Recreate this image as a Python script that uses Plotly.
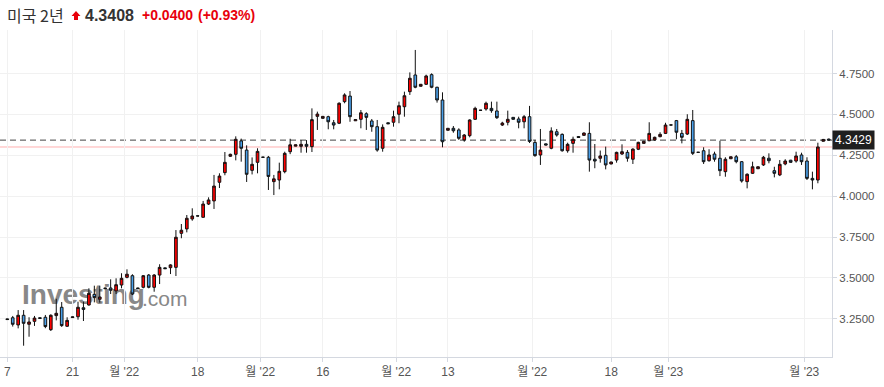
import pandas as pd
import plotly.graph_objects as go

# ---------------- data ----------------
holidays = ["2022-09-05", "2022-10-10", "2022-11-11", "2022-12-26", "2023-01-02", "2023-01-16"]
dates = pd.bdate_range("2022-08-07", "2023-02-06", freq="C",
                       weekmask="Sun Mon Tue Wed Thu Fri",
                       holidays=holidays).strftime("%Y-%m-%d").tolist()

opens = [3.250, 3.257, 3.213, 3.272, 3.217, 3.235, 3.257, 3.260, 3.184, 3.270,
         3.321, 3.205, 3.258, 3.263, 3.318, 3.335, 3.400, 3.370, 3.439, 3.439,
         3.421, 3.457, 3.504, 3.514, 3.439, 3.443, 3.518, 3.443, 3.518, 3.562,
         3.563, 3.565, 3.773, 3.800, 3.861, 3.880, 3.871, 3.952, 3.971, 4.085,
         4.144, 4.244, 4.256, 4.338, 4.282, 4.158, 4.207, 4.239, 4.238, 4.089,
         4.099, 4.150, 4.272, 4.306, 4.305, 4.317, 4.303, 4.488, 4.476, 4.486,
         4.449, 4.446, 4.578, 4.612, 4.461, 4.470, 4.504, 4.460, 4.425, 4.293,
         4.449, 4.452, 4.501, 4.547, 4.639, 4.741, 4.672, 4.684, 4.743, 4.666,
         4.588, 4.403, 4.415, 4.405, 4.344, 4.370, 4.470, 4.526, 4.533, 4.537,
         4.521, 4.435, 4.452, 4.482, 4.472, 4.455, 4.486, 4.329, 4.252, 4.320,
         4.293, 4.394, 4.378, 4.278, 4.323, 4.365, 4.372, 4.384, 4.226, 4.232,
         4.250, 4.197, 4.221, 4.258, 4.268, 4.226, 4.287, 4.323, 4.339, 4.344,
         4.364, 4.384, 4.436, 4.462, 4.384, 4.380, 4.462, 4.269, 4.278, 4.217,
         4.258, 4.232, 4.150, 4.229, 4.241, 4.211, 4.089, 4.140, 4.168, 4.191,
         4.232, 4.156, 4.130, 4.197, 4.220, 4.215, 4.252, 4.215, 4.109, 4.099,
         4.336, 4.349]
highs = [3.252, 3.268, 3.304, 3.304, 3.260, 3.268, 3.259, 3.274, 3.278, 3.373,
         3.353, 3.260, 3.264, 3.355, 3.355, 3.437, 3.453, 3.453, 3.441, 3.492,
         3.498, 3.529, 3.553, 3.523, 3.441, 3.518, 3.524, 3.524, 3.584, 3.564,
         3.584, 3.793, 3.830, 3.885, 3.926, 3.880, 3.971, 3.993, 4.130, 4.140,
         4.270, 4.260, 4.366, 4.352, 4.311, 4.237, 4.293, 4.239, 4.246, 4.130,
         4.205, 4.272, 4.351, 4.315, 4.343, 4.343, 4.537, 4.517, 4.490, 4.492,
         4.466, 4.574, 4.629, 4.643, 4.470, 4.527, 4.513, 4.472, 4.466, 4.439,
         4.451, 4.523, 4.578, 4.639, 4.757, 4.894, 4.686, 4.743, 4.751, 4.669,
         4.635, 4.416, 4.429, 4.415, 4.380, 4.470, 4.547, 4.526, 4.578, 4.578,
         4.578, 4.455, 4.523, 4.484, 4.486, 4.496, 4.552, 4.344, 4.411, 4.322,
         4.421, 4.411, 4.384, 4.327, 4.364, 4.367, 4.390, 4.452, 4.319, 4.279,
         4.303, 4.211, 4.272, 4.317, 4.282, 4.293, 4.333, 4.338, 4.452, 4.364,
         4.391, 4.449, 4.436, 4.466, 4.405, 4.501, 4.527, 4.269, 4.299, 4.287,
         4.272, 4.339, 4.238, 4.243, 4.252, 4.215, 4.140, 4.211, 4.182, 4.246,
         4.262, 4.180, 4.221, 4.226, 4.222, 4.272, 4.266, 4.238, 4.150, 4.327,
         4.350, 4.352]
lows = [3.244, 3.203, 3.192, 3.086, 3.141, 3.207, 3.251, 3.193, 3.176, 3.241,
        3.201, 3.201, 3.256, 3.245, 3.237, 3.331, 3.351, 3.349, 3.433, 3.402,
        3.402, 3.437, 3.498, 3.396, 3.433, 3.437, 3.437, 3.416, 3.463, 3.555,
        3.524, 3.512, 3.743, 3.779, 3.850, 3.878, 3.869, 3.946, 3.922, 4.050,
        4.128, 4.240, 4.219, 4.211, 4.087, 4.133, 4.140, 4.237, 4.038, 4.007,
        4.042, 4.140, 4.257, 4.305, 4.266, 4.266, 4.270, 4.405, 4.474, 4.409,
        4.409, 4.441, 4.568, 4.455, 4.460, 4.415, 4.405, 4.394, 4.272, 4.272,
        4.441, 4.425, 4.446, 4.486, 4.619, 4.660, 4.670, 4.680, 4.660, 4.572,
        4.299, 4.401, 4.388, 4.344, 4.333, 4.360, 4.466, 4.524, 4.523, 4.510,
        4.472, 4.429, 4.433, 4.468, 4.415, 4.415, 4.325, 4.241, 4.191, 4.311,
        4.287, 4.364, 4.272, 4.266, 4.266, 4.357, 4.368, 4.150, 4.171, 4.205,
        4.164, 4.195, 4.205, 4.252, 4.211, 4.197, 4.282, 4.321, 4.336, 4.339,
        4.360, 4.380, 4.434, 4.348, 4.323, 4.374, 4.252, 4.267, 4.197, 4.211,
        4.211, 4.123, 4.119, 4.227, 4.201, 4.083, 4.048, 4.136, 4.166, 4.185,
        4.201, 4.115, 4.123, 4.189, 4.205, 4.205, 4.191, 4.099, 4.042, 4.079,
        4.334, 4.340]
closes = [3.246, 3.217, 3.272, 3.223, 3.231, 3.255, 3.253, 3.203, 3.272, 3.284,
          3.209, 3.241, 3.262, 3.321, 3.308, 3.406, 3.380, 3.384, 3.435, 3.425,
          3.459, 3.498, 3.523, 3.402, 3.435, 3.514, 3.443, 3.518, 3.565, 3.557,
          3.580, 3.749, 3.792, 3.865, 3.879, 3.879, 3.952, 3.977, 4.062, 4.123,
          4.207, 4.256, 4.348, 4.293, 4.134, 4.195, 4.274, 4.238, 4.121, 4.106,
          4.152, 4.262, 4.314, 4.314, 4.317, 4.305, 4.468, 4.502, 4.488, 4.455,
          4.435, 4.568, 4.619, 4.486, 4.468, 4.510, 4.482, 4.425, 4.282, 4.421,
          4.443, 4.486, 4.553, 4.614, 4.721, 4.666, 4.684, 4.735, 4.666, 4.588,
          4.333, 4.415, 4.400, 4.354, 4.374, 4.466, 4.537, 4.525, 4.568, 4.523,
          4.480, 4.447, 4.470, 4.470, 4.452, 4.486, 4.335, 4.248, 4.282, 4.313,
          4.399, 4.374, 4.278, 4.317, 4.348, 4.359, 4.386, 4.221, 4.215, 4.246,
          4.191, 4.209, 4.268, 4.272, 4.232, 4.288, 4.329, 4.336, 4.384, 4.360,
          4.378, 4.435, 4.435, 4.391, 4.360, 4.470, 4.262, 4.268, 4.211, 4.252,
          4.226, 4.156, 4.226, 4.241, 4.211, 4.093, 4.134, 4.180, 4.180, 4.238,
          4.217, 4.140, 4.195, 4.215, 4.207, 4.246, 4.211, 4.109, 4.099, 4.3008,
          4.347, 4.3429]

last_price = 4.3429
prev_close = 4.3008
ytick_values = [3.25, 3.50, 3.75, 4.00, 4.25, 4.50, 4.75]
day_ticks = ["2022-08-07", "2022-08-21", "2022-09-18", "2022-10-16", "2022-11-13", "2022-12-18"]
day_labels = ["7", "21", "18", "16", "13", "18"]
month_ticks = ["2022-09", "2022-10", "2022-11", "2022-12", "2023-01", "2023-02"]
month_labels = ["월 '22", "월 '22", "월 '22", "월 '22", "월 '23", "월 '23"]

# tick positions derived from the date categories
ticks = [(dates.index(d), t) for d, t in zip(day_ticks, day_labels)]
for m, t in zip(month_ticks, month_labels):
    first = next(i for i, d in enumerate(dates) if d.startswith(m))
    ticks.append((first - 0.5, t))
ticks.sort()
tickvals = [p for p, _ in ticks]
ticktext = [t for _, t in ticks]

# ---------------- figure ----------------
W, H = 884, 387
ML, MR, MT, MB = 0, 52, 30, 30
PW, PH = W - ML - MR, H - MT - MB


def px_x(px):
    return (px - ML) / PW


def px_y(py):
    return (H - MB - py) / PH


FONT = "Liberation Sans, Arial, Noto Sans CJK KR, sans-serif"
KFONT = "Noto Sans CJK KR, Liberation Sans, sans-serif"

fig = go.Figure()
fig.add_trace(go.Candlestick(
    x=dates, open=opens, high=highs, low=lows, close=closes,
    increasing=dict(fillcolor="#ff0000", line=dict(color="#111111", width=1)),
    decreasing=dict(fillcolor="#4aa0ea", line=dict(color="#111111", width=1)),
    whiskerwidth=0, showlegend=False, name="미국 2년",
))

# up-arrow icon in the header (block arrow)
arrow_pts = [(76, 11), (80.5, 16), (78, 16), (78, 20), (74, 20), (74, 16), (71.5, 16)]
arrow_path = "M " + " L ".join(f"{px_x(x):.5f},{px_y(y):.5f}" for x, y in arrow_pts) + " Z"

shapes = [
    dict(type="line", xref="paper", x0=0, x1=1, yref="y", y0=prev_close, y1=prev_close,
         line=dict(color="#ffb0b0", width=1), layer="below"),
    dict(type="line", xref="paper", x0=0, x1=1, yref="y", y0=last_price, y1=last_price,
         line=dict(color="#444444", width=1, dash="6px,4px"), layer="below"),
    dict(type="path", xref="paper", yref="paper", path=arrow_path,
         fillcolor="#e8000b", line=dict(width=0), layer="above"),
    # watermark (text label drawn below the candles)
    dict(type="rect", xref="paper", yref="paper", x0=px_x(19), x1=px_x(142),
         y0=px_y(306), y1=px_y(276), line=dict(width=0), fillcolor="rgba(0,0,0,0)",
         layer="below",
         label=dict(text="<b>Investing</b>", textposition="middle left", padding=0,
                    font=dict(family="Liberation Sans, Arial", size=28, color="#888888"))),
    dict(type="rect", xref="paper", yref="paper", x0=px_x(139), x1=px_x(190),
         y0=px_y(307), y1=px_y(285), line=dict(width=0), fillcolor="rgba(0,0,0,0)",
         layer="below",
         label=dict(text=".com", textposition="middle left", padding=0,
                    font=dict(family="Liberation Sans, Arial", size=21, color="#888888"))),
]

annotations = [
    dict(text="미국 2년", x=px_x(5), y=px_y(15), xref="paper", yref="paper",
         xanchor="left", yanchor="middle", showarrow=False,
         font=dict(family=KFONT, size=16, color="#333333")),
    dict(text="<b>4.3408</b>", x=px_x(83), y=px_y(15), xref="paper", yref="paper",
         xanchor="left", yanchor="middle", showarrow=False,
         font=dict(family=FONT, size=16, color="#333333")),
    dict(text="<b>+0.0400</b>", x=px_x(140), y=px_y(15), xref="paper", yref="paper",
         xanchor="left", yanchor="middle", showarrow=False,
         font=dict(family=FONT, size=14, color="#e8000b")),
    dict(text="<b>(+0.93%)</b>", x=px_x(196), y=px_y(15), xref="paper", yref="paper",
         xanchor="left", yanchor="middle", showarrow=False,
         font=dict(family=FONT, size=14, color="#e8000b")),
    dict(text=f"{last_price:.4f}", x=1, y=last_price, xref="paper", yref="y",
         xanchor="left", yanchor="middle", showarrow=False, bgcolor="#1f1f1f",
         borderpad=2, font=dict(family=FONT, size=12, color="#ffffff")),
]

fig.update_layout(
    width=W, height=H,
    margin=dict(l=ML, r=MR, t=MT, b=MB),
    paper_bgcolor="white", plot_bgcolor="white",
    shapes=shapes, annotations=annotations,
    xaxis=dict(
        type="category", range=[-1.34, 151.6],
        tickmode="array", tickvals=tickvals, ticktext=ticktext,
        showgrid=True, gridcolor="#f1f1f1", gridwidth=1,
        ticks="outside", ticklen=4, tickcolor="#d4d8e0",
        showline=True, linecolor="#d4d8e0", linewidth=1,
        tickfont=dict(family=FONT, size=12, color="#555555"),
        rangeslider=dict(visible=False), fixedrange=True,
    ),
    yaxis=dict(
        side="right", range=[3.017, 5.016],
        tickmode="array", tickvals=ytick_values, tickformat=".4f",
        showgrid=True, gridcolor="#f1f1f1", gridwidth=1, zeroline=False,
        ticks="outside", ticklen=4, tickcolor="#d4d8e0",
        showline=True, linecolor="#d4d8e0", linewidth=1,
        tickfont=dict(family=FONT, size=11.5, color="#555555"),
        fixedrange=True,
    ),
)

fig.write_html("out.html", config={"displayModeBar": False},
               post_script="document.body.style.margin='0px';")
